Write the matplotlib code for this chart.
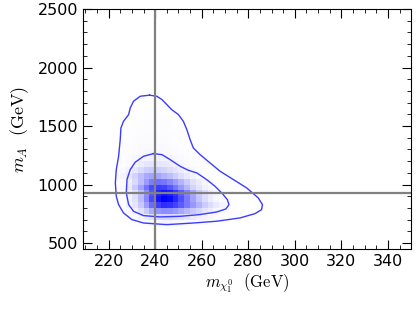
import numpy as np
import matplotlib
matplotlib.use("Agg")
import matplotlib.pyplot as plt
from matplotlib.colors import LinearSegmentedColormap, PowerNorm
from matplotlib.ticker import MultipleLocator

plt.rcParams["mathtext.fontset"] = "cm"

# --- density (percent of peak), rows from top (m_A ~ 1675) down to 625
# columns: m_chi bins of 2.5 GeV from 222.5 to 285
dens_rows = [
    "0 0 0 1 2 2 2 2 1",
    "0 0 1 2 2 3 3 3 2 1 0",
    "0 1 2 2 3 3 3 3 3 2 1 0",
    "0 2 2 3 3 4 4 4 3 3 2 1 0",
    "1 2 3 3 4 4 4 4 4 3 3 2 1",
    "1 2 3 4 4 5 5 5 4 4 3 2 2 1",
    "2 3 3 4 5 5 5 5 5 4 3 3 2 1",
    "2 3 4 5 6 6 6 6 6 5 4 3 3 2 1",
    "2 3 4 5 6 7 7 7 6 6 5 4 3 2 2 1",
    "2 3 5 7 9 10 11 11 10 9 7 6 4 3 2 1 1",
    "2 4 6 10 14 17 18 17 16 14 11 8 6 4 3 2 1 1",
    "3 6 11 17 23 28 30 29 26 22 18 14 10 7 4 3 2 1",
    "5 9 17 26 35 43 46 45 40 35 28 21 15 10 6 4 2 1 1",
    "3 6 13 23 36 49 60 64 62 56 48 39 29 20 14 9 5 3 2 1",
    "3 8 16 30 46 63 77 82 80 72 62 50 38 26 18 11 7 3 2 1 1",
    "2 4 10 19 34 53 73 89 95 92 84 71 58 44 30 21 13 8 4 2 2 1 1",
    "2 4 10 20 36 56 77 94 100 97 88 75 61 46 32 22 14 8 4 3 2 2 1 1",
    "2 3 9 17 31 48 66 81 86 84 79 71 61 50 40 29 22 15 9 6 3 2 2 1",
    "1 2 5 11 19 30 42 51 54 53 50 44 38 31 25 18 14 8 6 3 2 2 1",
    "1 2 3 5 9 14 19 24 25 25 23 21 18 15 12 9 7 5 3 2 2 1",
    "1 1 2 2 3 5 7 8 9 9 8 7 6 5 4 3 3 2 2 1 1",
    "0 0 1 1 1 2 2 2 2 2 2 2 2 1 1 1 1",
]
x_edges = np.arange(222.5, 285.1, 2.5)
y_edges = np.arange(600, 1701, 50)

# contours (m_chi, m_A)
outer_x = [237.6, 240.7, 242.9, 245.0, 247.1, 250.0, 252.1, 253.6, 255.0, 256.4,
           259.3, 263.6, 267.9, 273.6, 279.3, 284.3, 286.1, 285.7, 282.9, 276.4,
           266.4, 256.4, 245.0, 235.0, 230.0, 226.4, 224.3, 223.3, 222.9, 223.3,
           224.3, 225.0, 225.3, 226.4, 228.6, 229.3, 230.7, 233.6]
outer_y = [1764, 1755, 1727, 1684, 1641, 1598, 1541, 1470, 1385, 1313,
           1256, 1185, 1114, 1043, 972, 886, 829, 786, 752, 715,
           687, 672, 658, 672, 701, 758, 829, 900, 1014, 1128,
           1242, 1385, 1484, 1541, 1598, 1655, 1712, 1755]
inner_x = [239.3, 242.9, 246.4, 250.7, 254.3, 257.9, 262.1, 265.7, 268.6, 271.0,
           271.7, 270.4, 266.4, 259.3, 250.7, 242.1, 235.0, 230.7, 228.6, 227.6,
           227.9, 229.3, 231.4, 235.0]
inner_y = [1265, 1256, 1214, 1157, 1122, 1100, 1043, 986, 929, 872,
           829, 792, 766, 744, 729, 724, 735, 772, 829, 929,
           1043, 1128, 1191, 1242]

# reference point
x_ref = 240
y_ref = 925

ncol = len(x_edges) - 1
dens = []
for r in dens_rows:
    vals = [float(v) for v in r.split()]
    dens.append(vals + [0.0] * (ncol - len(vals)))
dens = np.array(dens)[::-1]

fig = plt.figure(figsize=(4.16, 3.12), dpi=100)
ax = fig.add_axes([0.1995, 0.202, 0.789, 0.769])

cmap = LinearSegmentedColormap.from_list("wb", ["white", "blue"])
ax.pcolormesh(x_edges, y_edges, dens, cmap=cmap, norm=PowerNorm(1.3, vmin=0, vmax=100))

ax.plot(outer_x + outer_x[:1], outer_y + outer_y[:1], color="#3c3cff", lw=1.0)
ax.plot(inner_x + inner_x[:1], inner_y + inner_y[:1], color="#3c3cff", lw=1.0)

ax.axvline(x_ref, color="#808080", lw=1.6)
ax.axhline(y_ref, color="#808080", lw=1.6)

ax.set_xlim(209, 350)
ax.set_ylim(450, 2500)
ax.xaxis.set_major_locator(MultipleLocator(20))
ax.xaxis.set_minor_locator(MultipleLocator(5))
ax.yaxis.set_major_locator(MultipleLocator(500))
ax.yaxis.set_minor_locator(MultipleLocator(100))
ax.tick_params(which="both", direction="in", top=True, right=True, labelsize=11.5)
ax.tick_params(which="major", length=6.5)
ax.tick_params(which="minor", length=3.2)

ax.set_xlabel(r"$m_{\chi_1^0}\ \ (\mathrm{GeV})$", fontsize=12, labelpad=2)
ax.set_ylabel(r"$m_A\ \ (\mathrm{GeV})$", fontsize=13, labelpad=5)

fig.savefig("out.png", dpi=100)
